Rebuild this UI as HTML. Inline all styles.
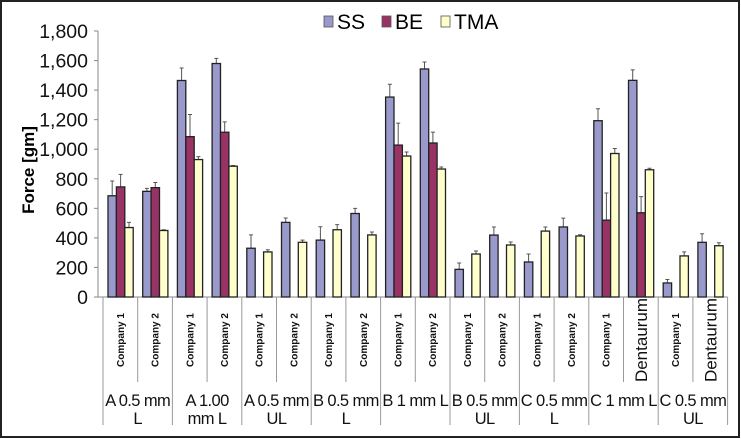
<!DOCTYPE html>
<html><head><meta charset="utf-8">
<style>
html,body{margin:0;padding:0;background:#fff;}
svg{display:block;font-family:"Liberation Sans",Arial,sans-serif;}
</style></head>
<body>
<svg id="chart" width="741" height="439" viewBox="0 0 741 439">
<rect x="1" y="1" width="738" height="436" fill="#fff" stroke="#222" stroke-width="2"/>
<g id="legend">
  <g><rect x="324" y="16" width="9" height="11" fill="#9999cc" stroke="#555" stroke-width="0.8"/><text x="337" y="29" font-size="21">SS</text></g>
  <g><rect x="382" y="16" width="9" height="11" fill="#993366" stroke="#555" stroke-width="0.8"/><text x="395" y="29" font-size="21">BE</text></g>
  <g><rect x="441" y="16" width="9" height="11" fill="#ffffcc" stroke="#555" stroke-width="0.8"/><text x="454" y="29" font-size="21">TMA</text></g>
</g>
<text transform="translate(34,170) rotate(-90)" text-anchor="middle" font-size="17" font-weight="bold">Force [gm]</text>
<g id="axes"></g>
<g id="bars"></g>
<g id="xlabels"></g>
</svg>
<script>
const subLabels = ["Company 1","Company 2","Company 1","Company 2","Company 1","Company 2","Company 1","Company 2","Company 1","Company 2","Company 1","Company 2","Company 1","Company 2","Company 1","Dentaurum","Company 1","Dentaurum"];
const groupLabels = [["A 0.5 mm","L"],["A 1.00","mm L"],["A 0.5 mm","UL"],["B 0.5 mm","L"],["B 1 mm L",""],["B 0.5 mm","UL"],["C 0.5 mm","L"],["C 1 mm L",""],["C 0.5 mm","UL"]];
const ssValues = [685,715,1465,1580,330,505,385,565,1353,1543,187,419,237,474,1193,1466,95,370];
const ssErr = [785,735,1550,1615,420,535,475,600,1440,1590,230,474,291,534,1274,1537,118,428];
const beValues = [745,740,1085,1115,null,null,null,null,1028,1042,null,null,null,null,520,570,null,null];
const beErr = [830,775,1235,1185,null,null,null,null,1177,1116,null,null,null,null,704,679,null,null];
const tmaValues = [470,450,930,885,305,370,455,420,954,866,291,352,446,413,971,861,278,347];
const tmaErr = [505,455,950,890,320,385,490,440,981,880,311,372,474,421,1005,871,305,367];
const yTicks = [0,200,400,600,800,1000,1200,1400,1600,1800];
const yTickLabels = ["0","200","400","600","800","1,000","1,200","1,400","1,600","1,800"];

const NS="http://www.w3.org/2000/svg";
const y0=297, yTop=31, yMax=1800;
const xStart=103, cw=34.7;
function yScale(v){return y0-(v/yMax)*(y0-yTop);}
function xScale(i){return xStart+i*cw;}
function mk(tag,attrs,parent){const e=document.createElementNS(NS,tag);for(const k in attrs)e.setAttribute(k,attrs[k]);parent.appendChild(e);return e;}

const axes=document.getElementById('axes');
const yAxis=mk('line',{x1:98,y1:yTop,x2:98,y2:y0,stroke:'#888','stroke-width':1},axes);


const xAxis=mk('line',{x1:94,y1:y0,x2:xScale(18),y2:y0,stroke:'#888','stroke-width':1},axes);


yTicks.forEach((t,i)=>{
  const y=yScale(t);
  const tk=mk('line',{x1:94,y1:y,x2:98,y2:y,stroke:'#888'},axes);
  
  
  const tx=mk('text',{x:88,y:y+7,'text-anchor':'end','font-size':19.5,fill:'#111'},axes);
  
  
  tx.textContent=yTickLabels[i];
});

const bars=document.getElementById('bars');
const series=[{v:ssValues,e:ssErr,c:'#9999cc',n:'ss'},{v:beValues,e:beErr,c:'#993366',n:'be'},{v:tmaValues,e:tmaErr,c:'#ffffcc',n:'tma'}];
const bw=8.4;
for(let i=0;i<18;i++){
  series.forEach((s,k)=>{
    const val=s.v[i]; if(val==null) return;
    const x=xScale(i)+5+k*bw;
    const err=s.e[i];
    if(err!=null){
      const ey=yScale(err), cx=x+bw/2;
      const el=mk('path',{d:`M${cx},${yScale(val)} V${ey} M${cx-2},${ey} H${cx+2}`,stroke:'#555','stroke-width':1,fill:'none'},bars);
      
      
    }
    const r=mk('rect',{x:x,y:yScale(val),width:bw,height:y0-yScale(val),fill:s.c,stroke:'#222','stroke-width':1.3},bars);
    
    
  });
}

const xl=document.getElementById('xlabels');
for(let i=0;i<=18;i++){
  const x=xScale(i);
  const long=(i%2===0);
  const ln=mk('line',{x1:x,y1:y0,x2:x,y2:long?425:382,stroke:'#999','stroke-width':1},xl);
  
  
}
subLabels.forEach((l,i)=>{
  const cx=xScale(i)+cw/2;
  const big=l==='Dentaurum';
  const t=mk('text',{transform:`translate(${cx+(big?6:3.5)},340) rotate(-90)`,'text-anchor':'middle','font-size':big?17:10,fill:'#111','font-weight':big?'normal':'bold'},xl);
  
  
  t.textContent=l;
});
groupLabels.forEach((g,i)=>{
  const cx=xScale(2*i)+cw;
  g.forEach((line,j)=>{
    if(!line) return;
    const t=mk('text',{x:cx,y:j===0?406:424,'text-anchor':'middle','font-size':16.5,fill:'#111','letter-spacing':'-0.6'},xl);
    
    
    t.textContent=line;
  });
});
</script>
</body></html>
